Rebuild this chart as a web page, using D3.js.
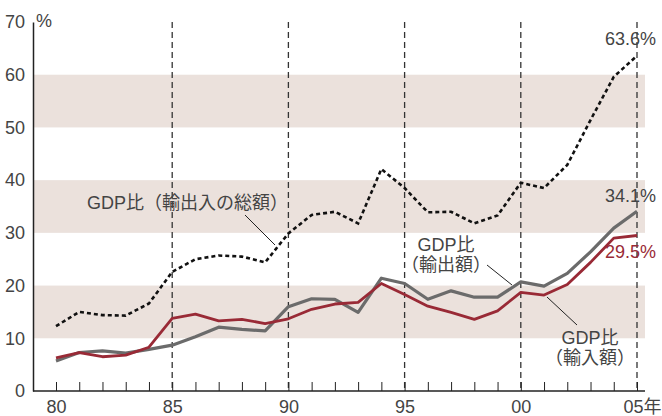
<!DOCTYPE html>
<html>
<head>
<meta charset="utf-8">
<script src="https://cdn.jsdelivr.net/npm/d3@7"></script>
<style>
  body { margin: 0; background: #fff; }
  svg text { font-family: "Liberation Sans", "Noto Sans CJK JP", sans-serif; fill: #444; }
</style>
</head>
<body>
<div id="chart"></div>
<script>
const years = d3.range(1980, 2006);
// GDP比（輸出入の総額）
const totalRatio = [12.3, 15.0, 14.4, 14.3, 16.6, 22.6, 25.0, 25.7, 25.5, 24.4,
  29.9, 33.4, 34.0, 31.8, 42.1, 38.5, 33.9, 34.0, 31.8, 33.3,
  39.5, 38.5, 42.9, 51.4, 59.6, 63.6];
// GDP比（輸出額）
const exportRatio = [5.7, 7.3, 7.6, 7.2, 7.9, 8.7, 10.3, 12.1, 11.7, 11.4,
  16.0, 17.5, 17.4, 14.9, 21.4, 20.4, 17.4, 19.0, 17.8, 17.8,
  20.7, 19.9, 22.3, 26.4, 30.9, 34.1];
// GDP比（輸入額）
const importRatio = [6.3, 7.3, 6.5, 6.8, 8.3, 13.8, 14.6, 13.3, 13.6, 12.8,
  13.7, 15.5, 16.5, 16.8, 20.4, 18.3, 16.1, 14.9, 13.6, 15.2,
  18.7, 18.2, 20.2, 24.4, 29.0, 29.5];
const bands = [[10, 20], [30, 40], [50, 60]];
const yTicks = [0, 10, 20, 30, 40, 50, 60, 70];
const xLabelYears = [1980, 1985, 1990, 1995, 2000, 2005];
const guideYears = [1985, 1990, 1995, 2000, 2005];

const width = 662, height = 416;
const axisX = 33, rightEdge = 645;

const svg = d3.select("#chart").append("svg")
  .attr("width", width)
  .attr("height", height);

const x = d3.scaleLinear().domain([1980, 2005]).range([56, 637]);
const y = d3.scaleLinear().domain([0, 70]).range([391, 22]);

// shaded bands
svg.selectAll("rect.band")
  .data(bands)
  .enter()
  .append("rect")
  .attr("class", "band")
  .attr("x", axisX)
  .attr("width", rightEdge - axisX)
  .attr("y", d => y(d[1]))
  .attr("height", d => y(d[0]) - y(d[1]))
  .attr("fill", "#ebe1dc");

// dashed guides every 5 years
svg.selectAll("line.guide")
  .data(guideYears)
  .enter()
  .append("line")
  .attr("x1", d => x(d)).attr("x2", d => x(d))
  .attr("y1", y(70)).attr("y2", y(0))
  .attr("stroke", "#333")
  .attr("stroke-width", 1.3)
  .attr("stroke-dasharray", "6,4");

// x axis
const xAxis = d3.axisBottom(x)
  .tickValues(years)
  .tickSize(-9)
  .tickPadding(9)
  .tickFormat(d => xLabelYears.includes(d) ? String(d % 100).padStart(2, "0") + (d === 2005 ? "年" : "") : "");
const gx = svg.append("g")
  .attr("transform", `translate(0,${y(0)})`)
  .call(xAxis);
gx.select(".domain").remove();
gx.selectAll(".tick line").attr("stroke", "#222").attr("stroke-width", 1);
gx.selectAll(".tick text")
  .attr("font-size", 18)
  .attr("fill", "#444")
  .attr("dx", d => d === 2005 ? 5 : 0);
svg.append("line")
  .attr("x1", axisX).attr("x2", rightEdge)
  .attr("y1", y(0)).attr("y2", y(0))
  .attr("stroke", "#222").attr("stroke-width", 1.5);

// y axis
const yAxis = d3.axisLeft(y).tickValues(yTicks).tickSize(0).tickPadding(8);
const gy = svg.append("g")
  .attr("transform", `translate(${axisX},0)`)
  .call(yAxis);
gy.select(".domain").attr("stroke", "#222").attr("stroke-width", 1.5);
gy.selectAll(".tick text").attr("font-size", 18).attr("fill", "#444");
svg.append("text")
  .attr("x", axisX + 3).attr("y", y(70) + 5)
  .attr("font-size", 18)
  .text("%");

const line = d3.line()
  .x((d, i) => x(years[i]))
  .y(d => y(d));

svg.append("path")
  .datum(exportRatio)
  .attr("d", line)
  .attr("fill", "none")
  .attr("stroke", "#6b6b6b")
  .attr("stroke-width", 3.2)
  .attr("stroke-linejoin", "round");

svg.append("path")
  .datum(importRatio)
  .attr("d", line)
  .attr("fill", "none")
  .attr("stroke", "#992a36")
  .attr("stroke-width", 2.8)
  .attr("stroke-linejoin", "round");

svg.append("path")
  .datum(totalRatio)
  .attr("d", line)
  .attr("fill", "none")
  .attr("stroke", "#111")
  .attr("stroke-width", 2.6)
  .attr("stroke-dasharray", "4,3");

// end labels
const endLabels = [
  { text: "63.6%", v: totalRatio[25], dy: -11, color: "#444" },
  { text: "34.1%", v: exportRatio[25], dy: -9, color: "#444" },
  { text: "29.5%", v: importRatio[25], dy: 23, color: "#992a36" }
];
svg.selectAll("text.endlabel")
  .data(endLabels)
  .enter()
  .append("text")
  .attr("class", "endlabel")
  .attr("x", 656)
  .attr("y", d => y(d.v) + d.dy)
  .attr("text-anchor", "end")
  .attr("font-size", 18)
  .style("fill", d => d.color)
  .text(d => d.text);

// series annotations
const notes = [
  { lines: ["GDP比（輸出入の総額）"], x: 87, y: 209, anchor: "start", lead: [245, 215, 275, 245] },
  { lines: ["GDP比", "（輸出額）"], x: 446, y: 251, anchor: "middle", lead: [487, 265, 512, 285] },
  { lines: ["GDP比", "（輸入額）"], x: 590, y: 344, anchor: "middle", lead: [547, 297, 577, 325] }
];
notes.forEach(n => {
  const t = svg.append("text")
    .attr("x", n.x).attr("y", n.y)
    .attr("text-anchor", n.anchor)
    .attr("font-size", 18);
  n.lines.forEach((l, i) => {
    t.append("tspan").attr("x", n.x).attr("dy", i === 0 ? 0 : 20).text(l);
  });
  svg.append("line")
    .attr("x1", n.lead[0]).attr("y1", n.lead[1])
    .attr("x2", n.lead[2]).attr("y2", n.lead[3])
    .attr("stroke", "#222").attr("stroke-width", 1);
});
</script>
</body>
</html>
